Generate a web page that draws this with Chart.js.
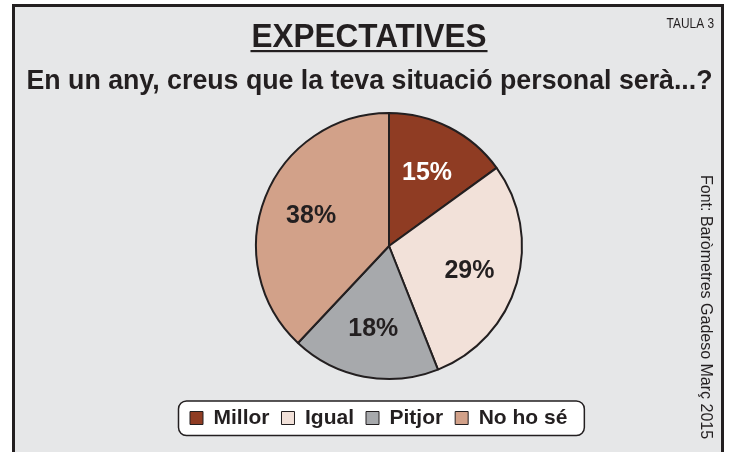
<!DOCTYPE html>
<html>
<head>
<meta charset="utf-8">
<script src="https://cdn.jsdelivr.net/npm/chart.js@4"></script>
<style>
html,body{margin:0;padding:0;background:#ffffff;}
canvas{display:block;}
</style>
</head>
<body>
<canvas id="c" width="731" height="452"></canvas>
<script>
// ---- data ----
const categories = ['Millor', 'Igual', 'Pitjor', 'No ho sé'];
const values = [15, 29, 18, 38];
const sliceColors = ['#8f3c23', '#f2e1d9', '#a7a9ac', '#d2a189'];
const labelColors = ['#ffffff', '#231f20', '#231f20', '#231f20'];
const titleText = 'EXPECTATIVES';
const subtitleText = 'En un any, creus que la teva situació personal serà...?';
const tableTag = 'TAULA 3';
const sourceText = 'Font: Baròmetres Gadeso Març 2015';

const INK = '#231f20';
const FONT = '"Liberation Sans", Arial, Helvetica, sans-serif';

function condensedText(ctx, text, x, y, sx) {
  ctx.save();
  ctx.translate(x, y);
  ctx.scale(sx, 1);
  ctx.fillText(text, 0, 0);
  ctx.restore();
}

const framePlugin = {
  id: 'frame',
  beforeDraw(chart) {
    const ctx = chart.ctx;
    ctx.save();
    // panel
    ctx.fillStyle = '#e6e7e8';
    ctx.fillRect(13.5, 5.5, 709, 460);
    ctx.strokeStyle = INK;
    ctx.lineWidth = 3;
    ctx.strokeRect(13.5, 5.5, 709, 460);

    // title (slightly condensed)
    ctx.fillStyle = INK;
    ctx.textAlign = 'center';
    ctx.textBaseline = 'alphabetic';
    ctx.font = 'bold 33.5px ' + FONT;
    const sx = 0.94;
    condensedText(ctx, titleText, 369, 47, sx);
    const tw = ctx.measureText(titleText).width * sx;
    ctx.fillRect(369 - tw / 2 - 1, 50, tw + 2, 2.2);

    // subtitle
    ctx.font = 'bold 28px ' + FONT;
    condensedText(ctx, subtitleText, 369.5, 89, 0.955);

    // tag
    ctx.font = '14px ' + FONT;
    ctx.textAlign = 'right';
    condensedText(ctx, tableTag, 714, 28, 0.85);

    // source, rotated
    ctx.translate(705, 175);
    ctx.rotate(Math.PI / 2);
    ctx.textAlign = 'left';
    ctx.textBaseline = 'middle';
    ctx.font = '16px ' + FONT;
    ctx.fillText(sourceText, 0, 0);
    ctx.restore();

    // legend frame
    const lg = chart.legend;
    if (lg && lg.lineWidths) {
      const pad = lg.options.labels.padding;
      const fs = lg.options.labels.font.size;
      const left = lg.left + 0.5;
      const right = lg.left + lg.lineWidths[0] + 17;
      const cy = lg.top + pad + fs / 2;
      const top = cy - 17, bottom = cy + 17.5;
      ctx.save();
      ctx.beginPath();
      ctx.roundRect(left, top, right - left, bottom - top, 8);
      ctx.fillStyle = '#ffffff';
      ctx.fill();
      ctx.lineWidth = 1.5;
      ctx.strokeStyle = INK;
      ctx.stroke();
      ctx.restore();
    }
  }
};

const pctPlugin = {
  id: 'pct',
  afterDatasetsDraw(chart) {
    const ctx = chart.ctx;
    const meta = chart.getDatasetMeta(0);
    ctx.save();
    ctx.font = 'bold 26px ' + FONT;
    ctx.textAlign = 'center';
    ctx.textBaseline = 'middle';
    meta.data.forEach((arc, i) => {
      const p = arc.getProps(['x', 'y', 'startAngle', 'endAngle', 'outerRadius'], true);
      const mid = (p.startAngle + p.endAngle) / 2;
      const r = p.outerRadius * 0.63;
      ctx.fillStyle = labelColors[i];
      condensedText(ctx, values[i] + '%', p.x + Math.cos(mid) * r, p.y + Math.sin(mid) * r + 1, 0.96);
    });
    ctx.restore();
  }
};

const baseLabels = Chart.overrides.pie.plugins.legend.labels.generateLabels;

new Chart(document.getElementById('c'), {
  type: 'pie',
  data: {
    labels: categories,
    datasets: [{
      data: values,
      backgroundColor: sliceColors,
      borderColor: INK,
      borderWidth: 2,
      radius: 133,
      hoverOffset: 0
    }]
  },
  options: {
    responsive: false,
    devicePixelRatio: 1,
    animation: false,
    events: [],
    layout: { padding: { top: 96.5, bottom: 13.5, left: 178, right: 131 } },
    plugins: {
      tooltip: { enabled: false },
      title: { display: false },
      legend: {
        display: true,
        position: 'bottom',
        align: 'start',
        labels: {
          boxWidth: 13,
          boxHeight: 13,
          padding: 12,
          color: INK,
          font: { family: FONT, size: 21, weight: 'bold' },
          generateLabels(chart) {
            return baseLabels(chart).map(l => Object.assign(l, { lineWidth: 1, strokeStyle: INK }));
          }
        }
      }
    }
  },
  plugins: [framePlugin, pctPlugin]
});
</script>
</body>
</html>
